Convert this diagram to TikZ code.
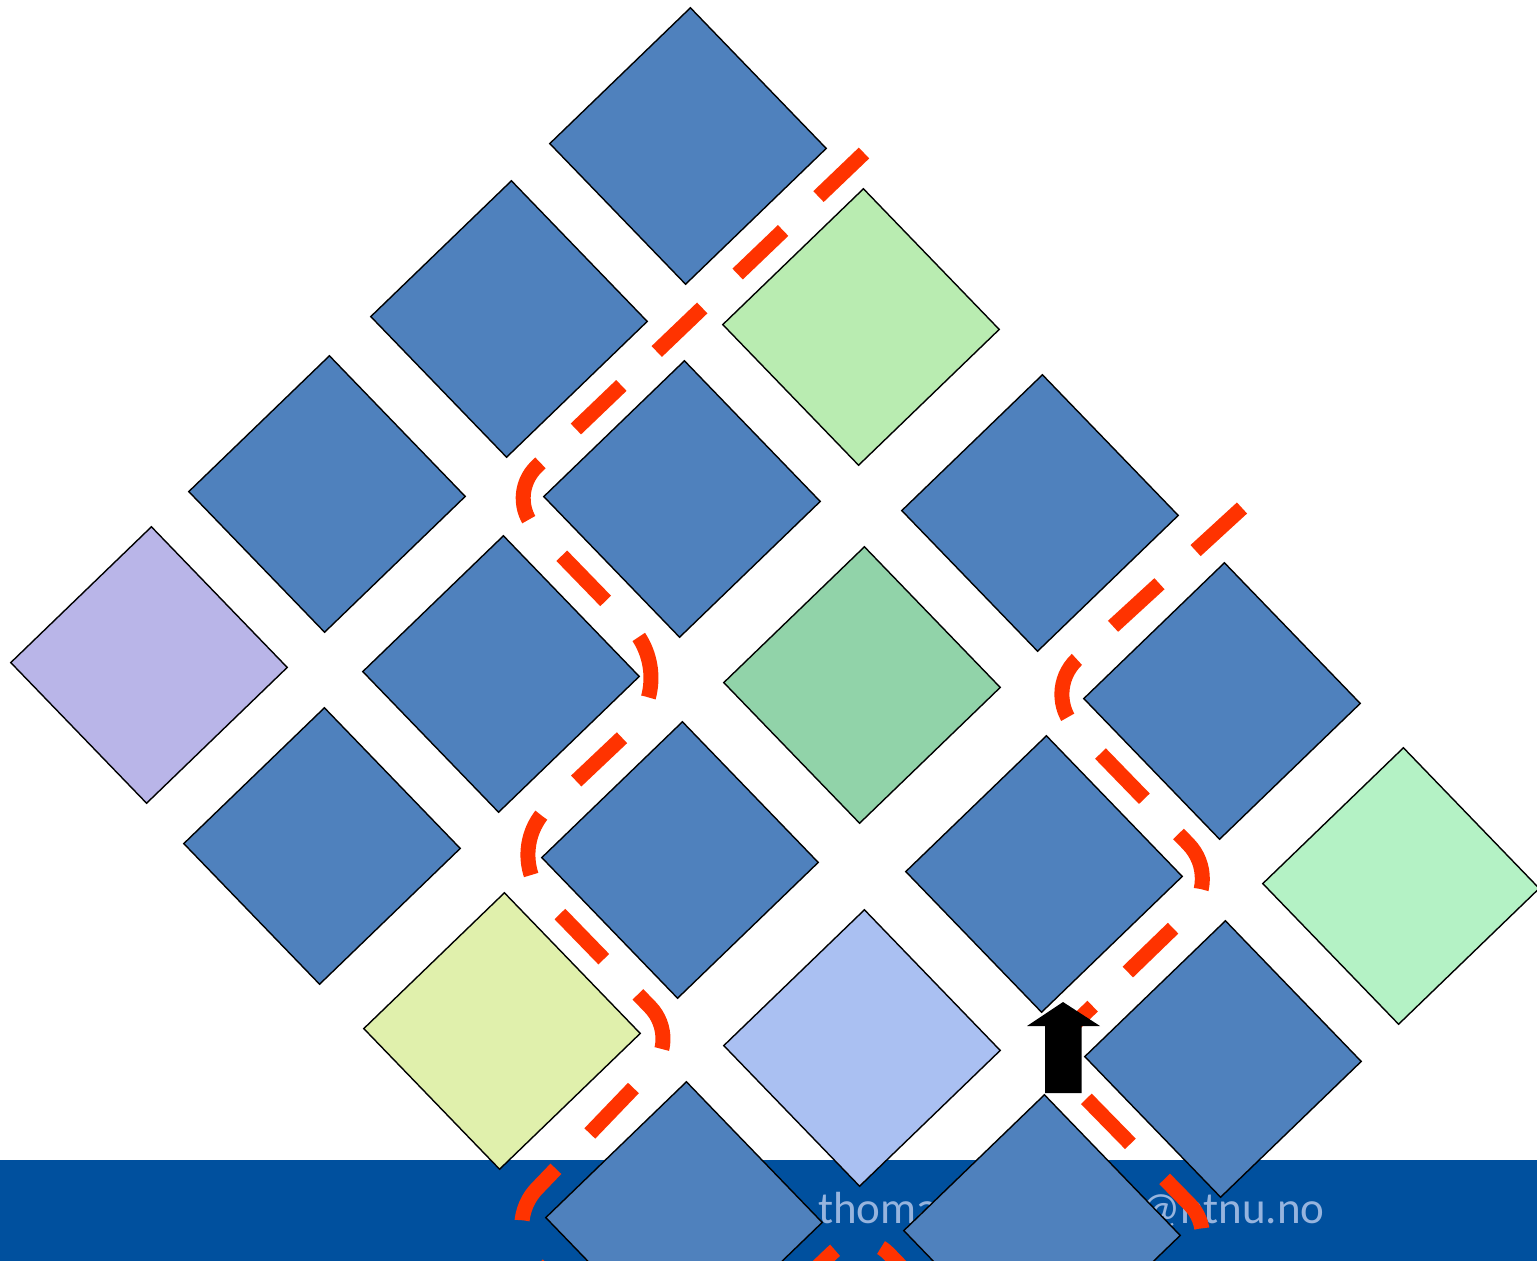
\documentclass[tikz,border=0pt]{standalone}
\usepackage{fontspec}
\setmainfont{Carlito}
\definecolor{tileblue}{RGB}{79,129,189}
\definecolor{greenA}{RGB}{185,236,177}
\definecolor{greenB}{RGB}{145,211,169}
\definecolor{greenC}{RGB}{180,242,197}
\definecolor{lilac}{RGB}{185,181,232}
\definecolor{lime}{RGB}{224,240,172}
\definecolor{skyblue}{RGB}{170,192,242}
\definecolor{barblue}{RGB}{0,80,158}
\definecolor{mailc}{RGB}{150,180,222}
\definecolor{routered}{RGB}{255,51,0}
\begin{document}
\begin{tikzpicture}[x=1pt,y=-1pt,
  tile/.style={draw=black, line width=1.4pt, rectangle, minimum width=195.5pt,
    minimum height=195.5pt, inner sep=0pt, outer sep=0pt, rotate=44},
  route/.style={draw=routered, line width=15pt, dash pattern=on 63pt off 49pt},
  mail/.style={text=mailc, font=\fontsize{45}{54}\selectfont, inner sep=0pt, anchor=base west}]
\useasboundingbox (0,0) rectangle (1537,1261);
\begin{scope}
\clip (0,0) rectangle (1537,1261);
% footer bar
\fill[barblue] (0,1160) rectangle (1537,1261);
\node[mail] (mailA) at (818,1223) {thomas};
\node[mail] (mailB) at (1140,1223) {@ntnu.no};
% tiles
\node[tile, fill=tileblue] (t1) at (688,146) {};
\node[tile, fill=greenA]   (t2) at (861,327) {};
\node[tile, fill=tileblue] (t3) at (509,319) {};
\node[tile, fill=tileblue] (t4) at (327,494) {};
\node[tile, fill=lilac]    (t5) at (149,665) {};
\node[tile, fill=tileblue] (t6) at (682,499) {};
\node[tile, fill=tileblue] (t7) at (501,674) {};
\node[tile, fill=tileblue] (t8) at (322,846) {};
\node[tile, fill=tileblue] (t9) at (680,860) {};
\node[tile, fill=lime]     (t10) at (502,1031) {};
\node[tile, fill=skyblue]  (t11) at (862,1048) {};
\node[tile, fill=greenB]   (t12) at (862,685) {};
\node[tile, fill=tileblue] (t13) at (1040,513) {};
\node[tile, fill=tileblue] (t14) at (1222,701) {};
\node[tile, fill=tileblue] (t15) at (1044,874) {};
\node[tile, fill=greenC]   (t16) at (1401,886) {};
\node[tile, fill=tileblue] (t17) at (1223,1059) {};
\node[tile, fill=tileblue] (t18) at (684,1220) {};
\node[tile, fill=tileblue] (t19) at (1042,1233) {};
% routes
\draw[route] (864,153) -- (536.7,466.5) .. controls (519.2,483.4) and (518.6,511.2) .. (535.5,528.7)
 -- (630,626) .. controls (658.7,655.8) and (657.8,703.3) .. (628,732)
 -- (547.8,807.9) .. controls (522,832.8) and (521.2,874) .. (546.1,899.8)
 -- (650.1,1006.9) .. controls (667.7,1025.2) and (667.2,1054.3) .. (648.9,1071.9)
 -- (538.6,1186.8) .. controls (516.7,1207.9) and (516.1,1242.7) .. (537.2,1264.6)
 -- (668.1,1382.6) .. controls (675.7,1390.5) and (688.5,1390.7) .. (696.4,1383.1)
 -- (832.2,1252.8) .. controls (848.1,1237.5) and (873.5,1237.9) .. (888.8,1253.8)
 -- (1000,1369);
\draw[route] (1242,508) -- (1076.6,659.7) .. controls (1057.5,678.1) and (1056.9,708.5) .. (1075.3,727.6)
 -- (1188.3,844) .. controls (1207.5,863.9) and (1206.9,895.5) .. (1187,914.7)
 -- (1075.4,1022.8) .. controls (1057.5,1040.1) and (1056.9,1068.5) .. (1074.2,1086.4)
 -- (1189.8,1204.6) .. controls (1207.1,1222.5) and (1206.5,1250.9) .. (1188.6,1268.2)
 -- (1100,1353);
% arrow
\fill[black] (1063,1002) -- (1100,1026) -- (1081.5,1026) -- (1081.5,1093)
  -- (1045,1093) -- (1045,1026) -- (1027,1026) -- cycle;
\end{scope}
\end{tikzpicture}
\end{document}
